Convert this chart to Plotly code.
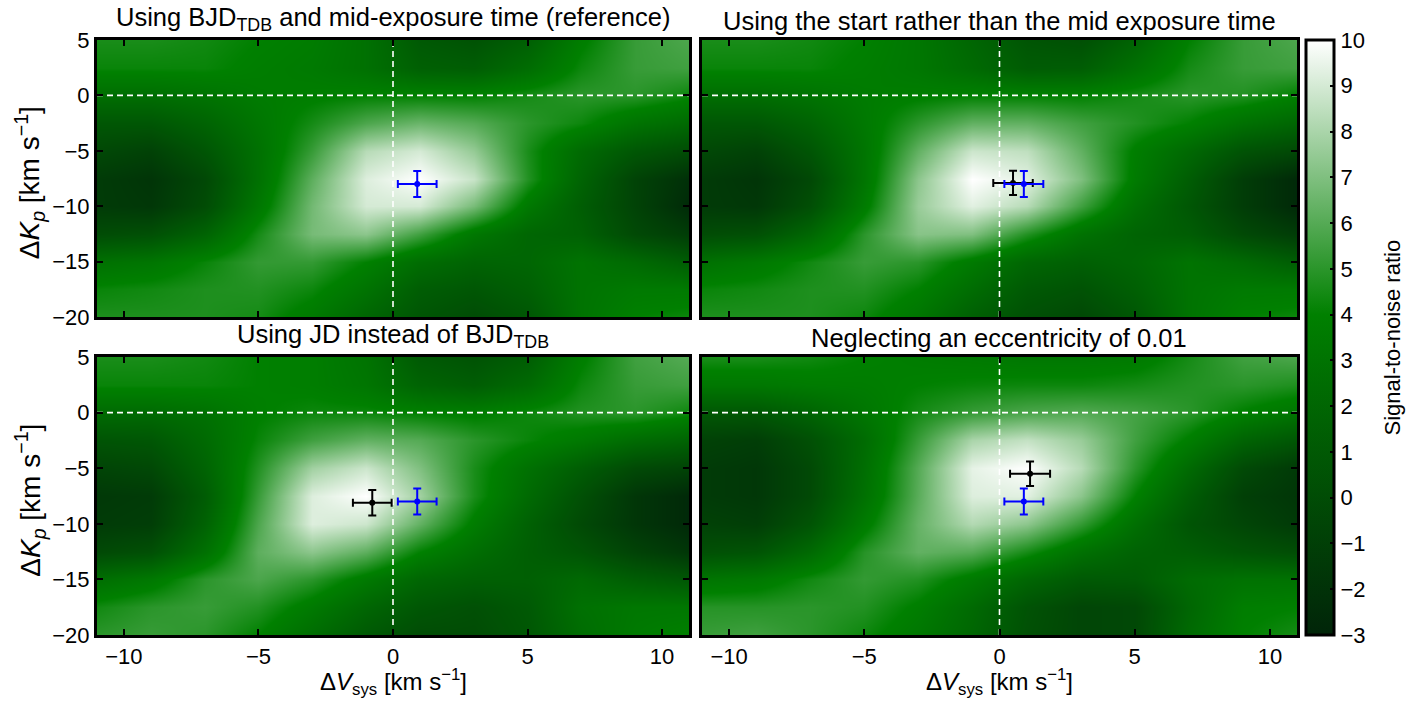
import plotly.graph_objects as go

# ---------------- data ----------------
X_GRID = [-11, -9, -7, -5, -3, -1, 1, 3, 5, 7, 9, 11]
Y_GRID = [5, 2.5, 0, -2.5, -5, -7.5, -10, -12.5, -15, -17.5, -20]

# Reference: BJD_TDB and mid-exposure time
Z_REF = [
    [4.6, 4.6, 4.4, 4.0, 3.7, 2.8, 1.0, 0.5, 1.5, 3.8, 5.3, 5.8],
    [4.2, 4.2, 4.2, 3.8, 3.5, 2.8, 1.5, 1.3, 2.5, 4.3, 5.3, 5.5],
    [2.6, 2.6, 3.0, 3.6, 3.8, 4.0, 4.0, 4.0, 4.5, 5.0, 5.0, 4.3],
    [0.8, 0.8, 1.8, 3.2, 4.5, 5.8, 6.5, 6.0, 5.0, 4.3, 3.0, 2.3],
    [-0.3, -0.8, 0.7, 2.8, 5.3, 8.3, 9.0, 7.5, 4.6, 2.3, 0.8, 0.0],
    [-1.3, -1.8, -0.3, 2.8, 6.2, 9.2, 10.0, 8.7, 4.8, 1.8, -0.7, -2.2],
    [-1.3, -1.6, 0.0, 3.3, 6.7, 9.0, 9.0, 6.8, 3.4, 1.3, -0.7, -2.6],
    [0.0, 0.3, 1.8, 4.5, 6.8, 7.3, 5.5, 3.3, 2.0, 1.6, -0.2, -1.2],
    [2.8, 3.2, 4.2, 5.2, 5.2, 4.0, 2.5, 1.8, 2.0, 3.0, 2.3, 1.3],
    [4.2, 4.4, 4.7, 4.8, 4.3, 3.0, 1.3, 0.8, 1.5, 3.0, 3.5, 3.5],
    [4.7, 4.7, 4.7, 4.5, 3.5, 2.0, 0.7, 0.0, 0.8, 3.0, 4.0, 4.3],
]

# Start rather than mid exposure time
Z_START = [
    [4.6, 4.6, 4.4, 4.0, 3.3, 2.0, 0.7, 0.3, 1.8, 4.0, 5.3, 5.8],
    [4.2, 4.2, 4.2, 3.8, 3.3, 2.3, 1.2, 1.3, 2.8, 4.5, 5.3, 5.5],
    [2.6, 2.6, 3.0, 3.6, 3.8, 4.0, 4.0, 4.0, 4.5, 5.0, 4.8, 4.0],
    [0.8, 0.8, 1.8, 3.4, 5.0, 6.3, 6.3, 5.5, 4.8, 4.0, 2.8, 2.0],
    [-0.3, -0.8, 0.7, 3.1, 6.3, 8.8, 8.5, 6.3, 3.8, 2.2, 0.5, -0.3],
    [-1.3, -1.8, -0.3, 3.1, 7.3, 10.0, 9.3, 7.0, 3.6, 1.3, -1.2, -2.7],
    [-1.3, -1.6, 0.2, 3.6, 7.6, 9.3, 8.3, 5.5, 2.7, 0.8, -1.2, -2.7],
    [0.0, 0.3, 2.1, 5.0, 7.2, 7.0, 4.8, 2.9, 1.8, 1.3, -0.2, -1.2],
    [2.8, 3.4, 4.4, 5.3, 5.0, 3.5, 2.0, 1.5, 2.0, 3.0, 2.3, 1.3],
    [4.2, 4.4, 4.7, 4.8, 4.0, 2.5, 1.0, 0.5, 1.5, 3.0, 3.5, 3.5],
    [4.7, 4.7, 4.7, 4.3, 3.2, 1.5, 0.3, -0.3, 0.8, 3.0, 4.0, 4.3],
]

# JD instead of BJD_TDB
Z_JD = [
    [4.6, 4.6, 4.4, 4.0, 3.8, 3.0, 1.0, 0.5, 1.3, 3.8, 5.5, 6.0],
    [4.2, 4.2, 4.2, 4.0, 3.8, 3.2, 1.8, 1.3, 2.3, 4.3, 5.3, 5.5],
    [2.3, 2.3, 2.8, 3.9, 4.3, 4.3, 4.0, 3.8, 4.3, 4.8, 5.0, 4.3],
    [0.6, 0.8, 2.3, 4.2, 5.5, 6.3, 6.0, 5.0, 4.2, 3.4, 2.4, 1.8],
    [-0.6, -0.3, 1.8, 4.8, 7.8, 8.8, 7.0, 4.6, 2.8, 1.3, -0.2, -0.7],
    [-1.5, -1.3, 1.2, 5.3, 9.2, 10.0, 7.8, 4.6, 2.3, 0.3, -1.7, -2.7],
    [-1.3, -1.1, 1.7, 5.8, 9.2, 8.8, 6.3, 3.7, 1.6, -0.2, -1.7, -2.7],
    [-0.2, 0.3, 2.8, 6.2, 7.3, 6.2, 4.0, 2.6, 1.4, 0.6, -0.7, -1.7],
    [2.6, 3.4, 5.0, 5.8, 5.0, 3.5, 2.0, 1.5, 1.5, 2.2, 1.3, 0.8],
    [4.4, 5.0, 5.3, 4.8, 3.5, 2.0, 0.8, 0.3, 1.0, 2.8, 3.3, 3.3],
    [5.0, 5.3, 5.0, 4.0, 2.5, 1.0, 0.0, 0.0, 0.8, 2.5, 3.5, 4.0],
]

# Neglecting an eccentricity of 0.01
Z_ECC = [
    [4.6, 4.6, 4.4, 4.0, 3.7, 3.5, 3.3, 3.3, 3.5, 4.5, 5.5, 5.8],
    [3.3, 3.3, 3.6, 3.7, 4.0, 4.2, 4.3, 4.3, 4.5, 4.8, 5.0, 4.7],
    [0.8, 0.8, 1.8, 3.2, 4.5, 5.3, 5.8, 6.0, 5.6, 5.0, 3.9, 3.1],
    [-0.8, -1.1, 0.3, 2.4, 5.3, 8.0, 8.6, 7.6, 5.5, 3.8, 1.8, 0.8],
    [-1.3, -1.6, -0.2, 2.6, 6.0, 9.4, 10.0, 8.3, 5.0, 2.3, -0.2, -1.4],
    [-1.3, -1.6, -0.2, 2.8, 6.1, 9.2, 9.3, 7.3, 4.0, 1.3, -1.0, -1.7],
    [-0.8, -1.1, 0.6, 3.6, 6.4, 8.2, 7.3, 5.2, 2.7, 0.6, -0.5, -1.4],
    [0.3, 0.6, 2.3, 4.9, 6.3, 6.0, 4.5, 2.8, 1.7, 1.3, 0.6, 0.1],
    [3.1, 3.4, 4.4, 5.2, 4.8, 3.5, 2.0, 1.0, 1.1, 2.4, 2.9, 2.9],
    [4.9, 4.9, 5.0, 4.8, 3.8, 2.3, 0.5, -0.5, -0.3, 2.0, 3.8, 4.0],
    [5.3, 5.5, 5.0, 4.3, 3.3, 2.0, 0.3, -0.5, -0.3, 2.3, 4.0, 4.5],
]

PANEL_TITLES = [
    "Using BJD<sub>TDB</sub> and mid-exposure time (reference)",
    "Using the start rather than the mid exposure time",
    "Using JD instead of BJD<sub>TDB</sub>",
    "Neglecting an eccentricity of 0.01",
]
CBAR_TITLE = "Signal-to-noise ratio"
X_TITLE = "Δ<i>V</i><sub>sys</sub> [km s<sup>−1</sup>]"
Y_TITLE = "Δ<i>K</i><sub><i>p</i></sub> [km s<sup>−1</sup>]"

# reference measurement (blue), same in all panels
REF_X, REF_Y, REF_XERR, REF_YERR = 0.9, -8.0, 0.72, 1.17
# alternative measurements (black) for panels 2-4
ALT_X = [0.5, -0.77, 1.13]
ALT_Y = [-7.9, -8.1, -5.5]
ALT_XERR = [0.73, 0.72, 0.74]
ALT_YERR = [1.1, 1.15, 1.1]

X_RANGE = [-11, 11]
Y_RANGE = [-20, 5]
X_TICKS = [-10, -5, 0, 5, 10]
Y_TICKS = [5, 0, -5, -10, -15, -20]
CBAR_TICKS = list(range(-3, 11))

# ---------------- figure ----------------
W, H = 1416, 701
ML, MR, MT, MB = 97, 80, 40, 66
PW, PH = W - ML - MR, H - MT - MB

def fx(px):
    return (px - ML) / PW

def fy(py):
    return (H - MB - py) / PH

X_DOM = [[fx(97), fx(689)], [fx(702), fx(1297)]]
Y_DOM = [[fy(317), fy(40)], [fy(635), fy(357)]]

FONT = "Liberation Sans, Arial, sans-serif"
fig = go.Figure()

panels = [Z_REF, Z_START, Z_JD, Z_ECC]
for i, z in enumerate(panels):
    k = "" if i == 0 else str(i + 1)
    xa, ya = "x" + k, "y" + k
    fig.add_trace(go.Heatmap(
        x=X_GRID, y=Y_GRID, z=z, coloraxis="coloraxis", zsmooth="best",
        xaxis=xa, yaxis=ya, hoverinfo="skip"))
    # zero lines
    fig.add_trace(go.Scatter(x=[0, 0], y=Y_RANGE, mode="lines", xaxis=xa, yaxis=ya,
                             line=dict(color="white", width=1.6, dash="6px,4px"),
                             showlegend=False, hoverinfo="skip"))
    fig.add_trace(go.Scatter(x=X_RANGE, y=[0, 0], mode="lines", xaxis=xa, yaxis=ya,
                             line=dict(color="white", width=1.6, dash="6px,4px"),
                             showlegend=False, hoverinfo="skip"))
    if i > 0:
        j = i - 1
        fig.add_trace(go.Scatter(
            x=[ALT_X[j]], y=[ALT_Y[j]], mode="markers", xaxis=xa, yaxis=ya,
            marker=dict(color="black", size=6),
            error_x=dict(type="data", array=[ALT_XERR[j]], color="black", thickness=2, width=4),
            error_y=dict(type="data", array=[ALT_YERR[j]], color="black", thickness=2, width=4),
            showlegend=False, hoverinfo="skip"))
    fig.add_trace(go.Scatter(
        x=[REF_X], y=[REF_Y], mode="markers", xaxis=xa, yaxis=ya,
        marker=dict(color="blue", size=6),
        error_x=dict(type="data", array=[REF_XERR], color="blue", thickness=2, width=4),
        error_y=dict(type="data", array=[REF_YERR], color="blue", thickness=2, width=4),
        showlegend=False, hoverinfo="skip"))

axis_common = dict(showline=True, linewidth=3, linecolor="black", mirror="ticks",
                   ticks="inside", ticklen=6, tickwidth=2, tickcolor="black",
                   showgrid=False, zeroline=False, automargin=False,
                   tickfont=dict(family=FONT, size=22, color="black"))

layout = {}
for i in range(4):
    r, c = divmod(i, 2)
    k = "" if i == 0 else str(i + 1)
    layout["xaxis" + k] = dict(axis_common, domain=X_DOM[c], range=X_RANGE, tickvals=X_TICKS,
                               anchor="y" + k, showticklabels=(r == 1))
    layout["yaxis" + k] = dict(axis_common, domain=Y_DOM[r], range=Y_RANGE, tickvals=Y_TICKS,
                               anchor="x" + k, showticklabels=(c == 0))
fig.update_layout(**layout)

annotations = []
for i, t in enumerate(PANEL_TITLES):
    r, c = divmod(i, 2)
    annotations.append(dict(text=t, xref="paper", yref="paper",
                            x=(X_DOM[c][0] + X_DOM[c][1]) / 2, y=Y_DOM[r][1],
                            xanchor="center", yanchor="bottom", yshift=3, showarrow=False,
                            font=dict(family=FONT, size=25.5, color="black")))
# axis titles
for c in range(2):
    annotations.append(dict(text=X_TITLE, xref="paper", yref="paper",
                            x=(X_DOM[c][0] + X_DOM[c][1]) / 2, y=fy(701),
                            xanchor="center", yanchor="bottom", showarrow=False,
                            font=dict(family=FONT, size=24, color="black")))
for r in range(2):
    annotations.append(dict(text=Y_TITLE, xref="paper", yref="paper",
                            x=fx(30), y=(Y_DOM[r][0] + Y_DOM[r][1]) / 2 - 0.008,
                            xanchor="center", yanchor="middle", textangle=-90, showarrow=False,
                            font=dict(family=FONT, size=28, color="black")))
# colorbar title
annotations.append(dict(text=CBAR_TITLE, xref="paper", yref="paper",
                        x=fx(1392), y=0.5, xanchor="center", yanchor="middle",
                        textangle=-90, showarrow=False,
                        font=dict(family=FONT, size=22, color="black")))

fig.update_layout(
    width=W, height=H,
    margin=dict(l=ML, r=MR, t=MT, b=MB, autoexpand=False),
    paper_bgcolor="white", plot_bgcolor="white",
    font=dict(family=FONT, color="black"),
    annotations=annotations,
    coloraxis=dict(
        cmin=-3, cmax=10,
        colorscale=[[0.0, "#012509"], [7 / 13, "#008000"], [1.0, "#ffffff"]],
        colorbar=dict(
            x=fx(1306), xanchor="left", xref="paper",
            y=0.5, yanchor="middle", len=1.0, lenmode="fraction",
            thickness=28, thicknessmode="pixels", xpad=0, ypad=0,
            outlinewidth=3, outlinecolor="black",
            ticks="inside", ticklen=5, tickwidth=2, tickcolor="black",
            tickvals=CBAR_TICKS,
            tickfont=dict(family=FONT, size=22, color="black"),
        ),
    ),
)

fig.write_html("out.html", config={"displayModeBar": False},
               post_script="document.body.style.margin='0px';")
